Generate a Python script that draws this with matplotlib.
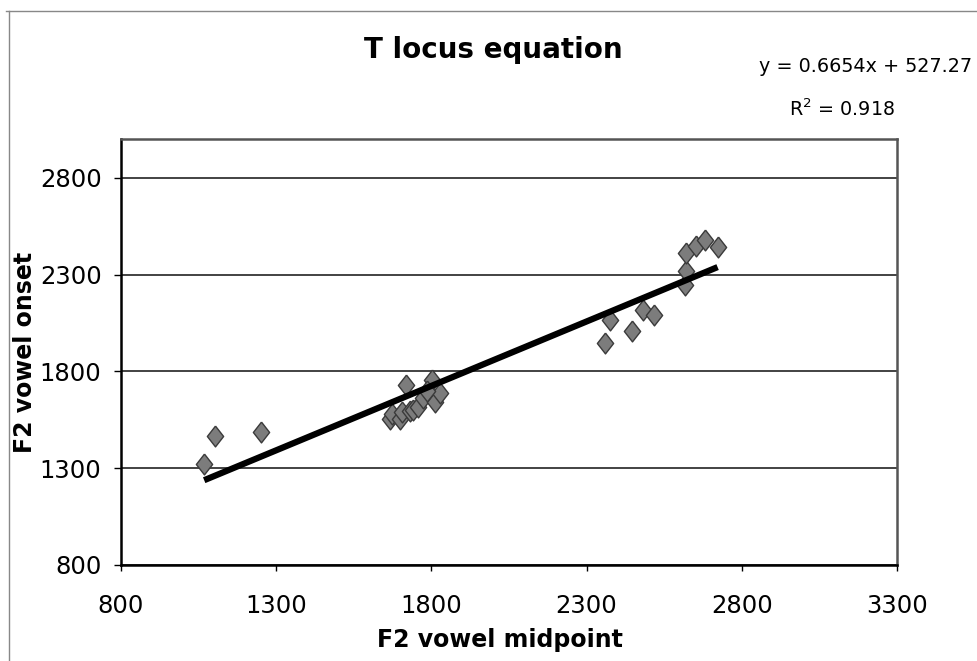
import matplotlib.pyplot as plt
from matplotlib.lines import Line2D
import numpy as np

# F2 midpoint (x) vs F2 onset (y)
midpoint = [1068, 1103, 1251,
            1667, 1672, 1699, 1704, 1731, 1742, 1758, 1774, 1718, 1801, 1812, 1828, 1785,
            2359, 2375, 2445, 2483, 2518,
            2617, 2620, 2620, 2654, 2681, 2722]
onset = [1320, 1467, 1487,
         1555, 1578, 1552, 1588, 1593, 1600, 1618, 1661, 1730, 1756, 1644, 1687, 1700,
         1946, 2066, 2006, 2118, 2092,
         2247, 2316, 2411, 2445, 2480, 2440]

slope = 0.6654
intercept = 527.27
r2 = 0.918

fig = plt.figure(figsize=(9.78, 6.61), dpi=100)
ax = fig.add_axes([121/978, 96/661, 776/978, 426/661])

ax.set_xlim(800, 3300)
ax.set_ylim(800, 3000)
ax.set_xticks([800, 1300, 1800, 2300, 2800, 3300])
ax.set_yticks([800, 1300, 1800, 2300, 2800])
ax.grid(axis='y', color='#222222', linewidth=1.2)
ax.set_axisbelow(True)

# diamond marker, slightly taller than wide
diamond = [(0, 1), (0.78, 0), (0, -1), (-0.78, 0), (0, 1)]
ax.plot(midpoint, onset, linestyle='none', marker=diamond, markersize=15,
        markerfacecolor='#7c7c7c', markeredgecolor='#3a3a3a', markeredgewidth=1.0, zorder=3)

xs = np.array([min(midpoint), max(midpoint)])
ax.plot(xs, slope * xs + intercept, color='black', linewidth=4.5, solid_capstyle='butt', zorder=4)

for side in ['top', 'right']:
    ax.spines[side].set_color('#555555')
    ax.spines[side].set_linewidth(1.8)
for side in ['left', 'bottom']:
    ax.spines[side].set_color('black')
    ax.spines[side].set_linewidth(1.8)

ax.tick_params(axis='y', direction='out', length=5, width=1, pad=9, labelsize=17.5)
ax.tick_params(axis='x', direction='out', length=4, width=1, pad=17, labelsize=17.5)

ax.set_xlabel('F2 vowel midpoint', fontsize=17, fontweight='bold')
ax.xaxis.set_label_coords(0.488, -0.148)
ax.set_ylabel('F2 vowel onset', fontsize=17, fontweight='bold')
ax.yaxis.set_label_coords(-0.108, 0.5)

fig.text(493/978, 1 - 50/661, 'T locus equation', ha='center', va='center',
         fontsize=20, fontweight='bold')
fig.text(866/978, 1 - 67/661, 'y = %.4fx + %.2f' % (slope, intercept),
         ha='center', va='center', fontsize=13.8)
fig.text(842/978, 1 - 109/661, '$\\mathregular{R^2}$ = %.3f' % r2,
         ha='center', va='center', fontsize=13.8)

# chart area border (top and left edges visible)
fig.add_artist(Line2D([6/978, 1], [1 - 11/661, 1 - 11/661], color='#888888', linewidth=1.0))
fig.add_artist(Line2D([9/978, 9/978], [0, 1 - 11/661], color='#888888', linewidth=1.0))

plt.savefig('out.png', dpi=100)
